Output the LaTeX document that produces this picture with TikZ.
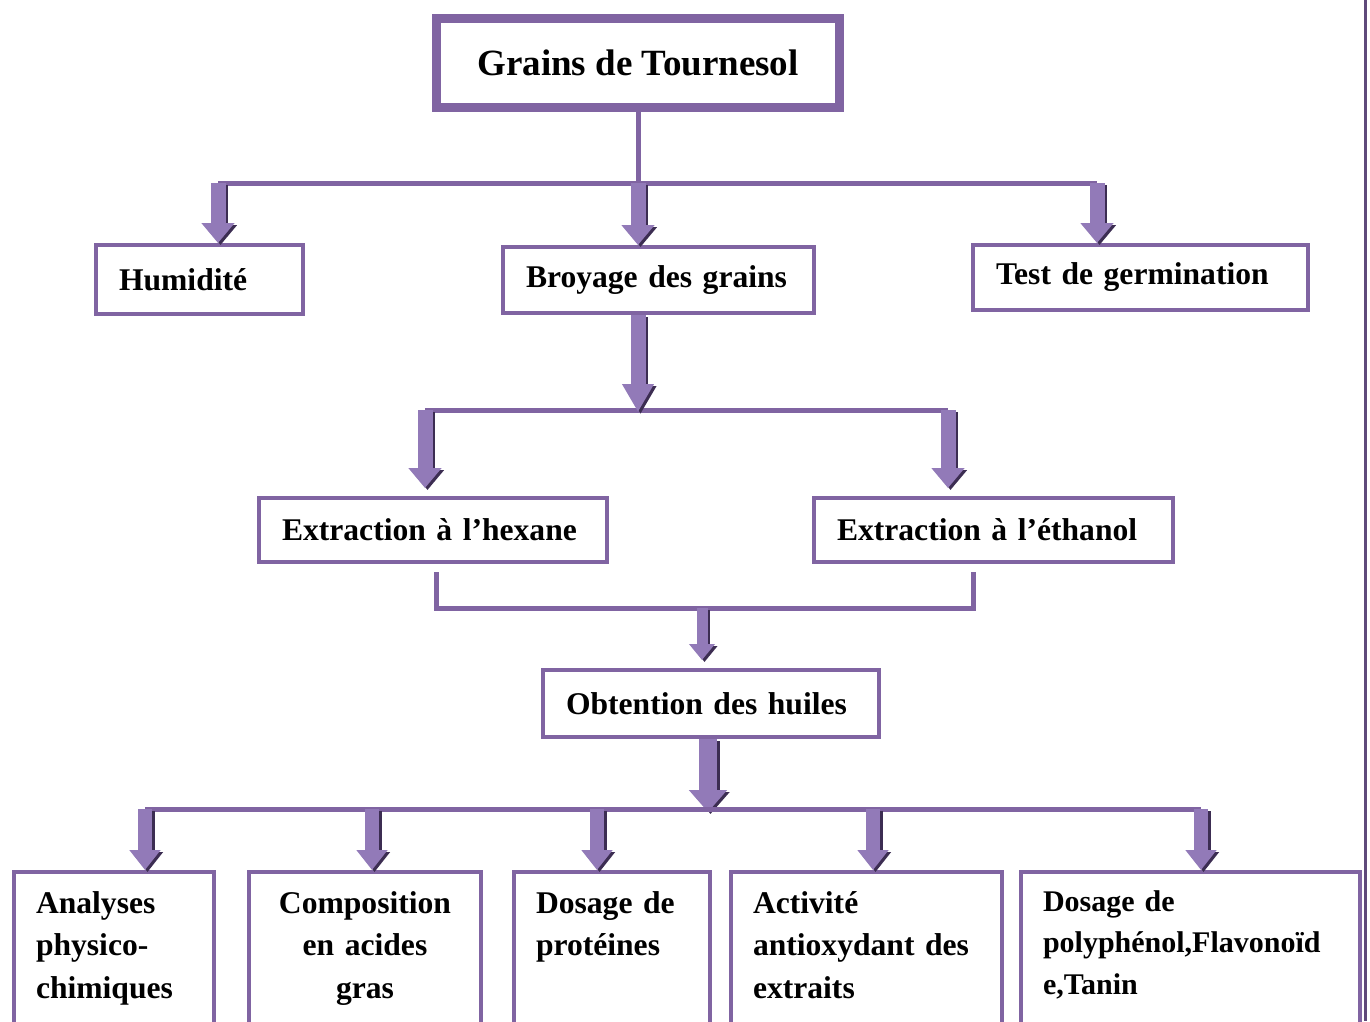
\documentclass[tikz,border=0pt]{standalone}
\usepackage{fontspec}
\setmainfont{Liberation Serif}
\usetikzlibrary{arrows.meta,calc}

\definecolor{lilas}{RGB}{128,100,162}
\definecolor{lilasdark}{RGB}{95,73,122}
\definecolor{lilaslight}{RGB}{146,122,184}
\definecolor{ombre}{RGB}{60,45,82}

\tikzset{
  box/.style={draw=lilas,line width=4pt,align=left,inner xsep=23pt,
    font=\bfseries\fontsize{31.6}{42.5}\selectfont},
  lowbox/.style={box,anchor=north,inner xsep=22pt,inner ysep=12pt,text height=29pt,text depth=140pt},
  link/.style={draw=lilas,line width=5pt},
  fleche/.style={line width=15pt,-{Triangle[width=32pt,length=20pt]}},
}
\newcommand{\fleche}[3][]{%
  \draw[fleche,ombre,#1,transform canvas={shift={(2.5pt,-2pt)}}] #2 -- #3;
  \draw[fleche,lilaslight,#1] #2 -- #3;}

\begin{document}
\begin{tikzpicture}[x=1pt,y=-1pt]
\clip (0,0) rectangle (1370,1021);

\node[box,line width=9pt,minimum width=403pt,minimum height=89pt,
  font=\bfseries\fontsize{37}{44}\selectfont] (grains) at (638,63) {Grains de Tournesol};
\draw[lilas,line width=2pt] ([shift={(7pt,7pt)}]grains.south west) rectangle ([shift={(-7pt,-7pt)}]grains.north east);

\node[box,text width=161pt,minimum height=69pt] (humid) at (199.5,279.5) {Humidité};
\node[box,text width=265pt,minimum height=66pt] (broyage) at (658.5,280) {Broyage des grains};
\node[box,text width=289pt,minimum height=65pt] (germ) at (1140.5,277.5) {Test de germination};
\node[box,text width=302pt,minimum height=64pt] (hexane) at (433,530) {Extraction à l’hexane};
\node[box,text width=313pt,minimum height=64pt] (ethanol) at (993.5,530) {Extraction à l’éthanol};
\node[box,text width=290pt,minimum height=67pt] (huiles) at (711,703.5) {Obtention des huiles};

\node[lowbox,text width=156pt] (physico) at (114,870) {Analyses\\physico-\\chimiques};
\node[lowbox,text width=188pt,align=center] (acides) at (365,870) {Composition\\en acides\\gras};
\node[lowbox,text width=152pt] (proteines) at (612,870) {Dosage de\\protéines};
\node[lowbox,text width=227pt] (antiox) at (866.5,870) {Activité\\antioxydant des\\extraits};
\node[lowbox,text width=295pt,text height=27pt,font=\bfseries\fontsize{30}{41.5}\selectfont]
  (polyph) at (1190.5,870) {Dosage de\\polyphénol,Flavonoïd\\e,Tanin};

% first level
\coordinate (b1l) at (218,183);
\coordinate (b1r) at (1097,183);
\coordinate (b1m) at (grains.south |- b1l);
\draw[link] (grains) -- (b1m);
\draw[link,line cap=square] (b1l) -- (b1r);
\fleche{(b1l)}{(b1l |- humid.north)}
\fleche{(b1m)}{(b1m |- broyage.north)}
\fleche{(b1r)}{(b1r |- germ.north)}

% extractions
\coordinate (b2m) at (638,410);
\coordinate (b2l) at (425,410);
\coordinate (b2r) at (948,410);
\draw[link,line cap=square] (b2l) -- (b2r);
\fleche[-{Triangle[width=30pt,length=28pt]},shorten >=-2pt]{(b2m |- broyage.south)}{(b2m)}
\fleche[shorten >=8pt]{(b2l)}{(b2l |- hexane.north)}
\fleche[shorten >=8pt]{(b2r)}{(b2r |- ethanol.north)}

\coordinate (j1) at (436,608);
\coordinate (j2) at (973,608);
\coordinate (jm) at (702,608);
\draw[link] ($(j1 |- hexane.south)+(0,8)$) -- (j1) -- (j2) -- ($(j2 |- ethanol.south)+(0,8)$);
\fleche[line width=11pt,-{Triangle[width=25pt,length=16pt]},shorten >=8pt]{(jm)}{(jm |- huiles.north)}

% analyses
\coordinate (b3m) at (708,809);
\coordinate (b3l) at (145,809);
\coordinate (b3r) at (1201,809);
\fleche[line width=18pt,-{Triangle[width=37pt,length=22pt]},shorten >=-3pt]{(b3m |- huiles.south)}{(b3m)}
\draw[link,line cap=square] (b3l) -- (b3r);
\foreach \n/\x in {physico/145,acides/372,proteines/597,antiox/873,polyph/1201}{
  \coordinate (d) at (\x,809);
  \fleche[line width=14pt,-{Triangle[width=30pt,length=20pt]}]{(d)}{(d |- \n.north)}
}

\draw[lilasdark,line width=3pt] (1365,0) -- (1365,1021);
\end{tikzpicture}
\end{document}
